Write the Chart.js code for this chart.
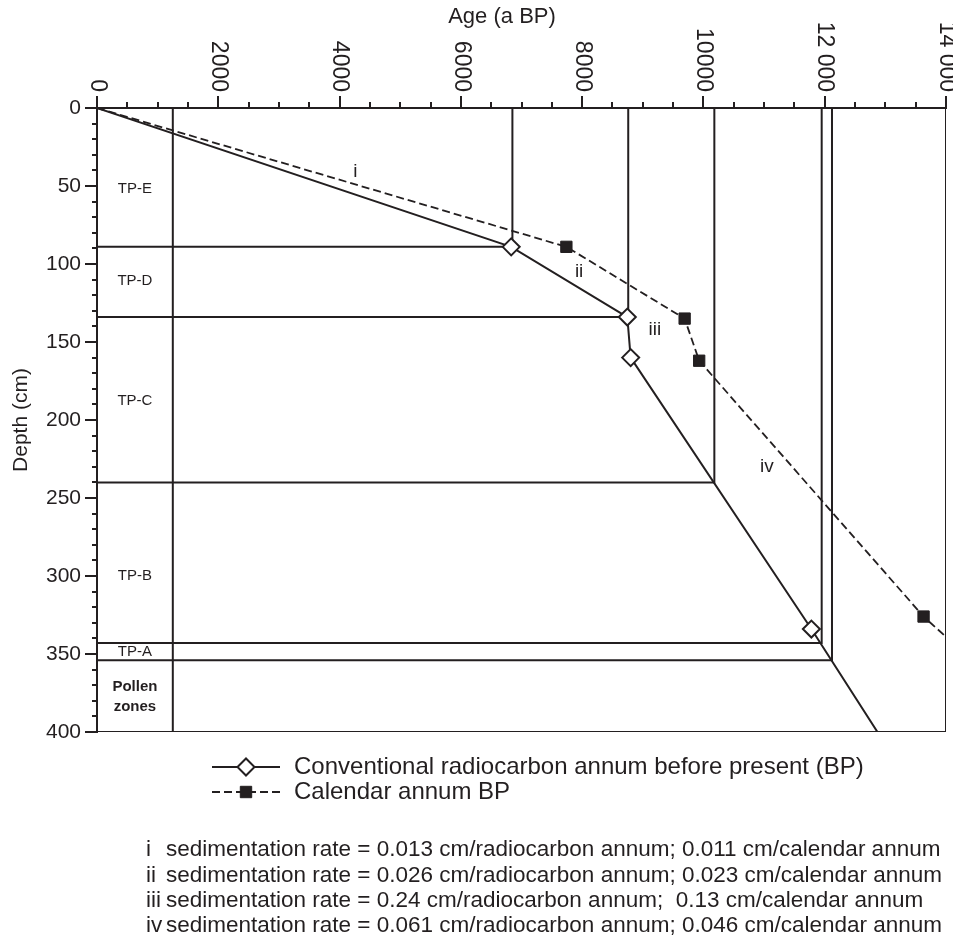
<!DOCTYPE html>
<html>
<head>
<meta charset="utf-8">
<script src="https://cdn.jsdelivr.net/npm/chart.js@4.4.0/dist/chart.umd.min.js"></script>
<style>
  html, body { margin: 0; padding: 0; background: #fff; }
  #wrap { width: 953px; height: 943px; }
</style>
</head>
<body>
<div id="wrap"><canvas id="ageDepthChart" width="953" height="943"></canvas></div>
<script>
// Conventional radiocarbon ages (a BP) against depth (cm); last point is the extrapolation to 400 cm
const radiocarbonAge = [0, 6830, 8745, 8800, 11780, 12870];
const radiocarbonDepth = [0, 89, 134, 160, 334, 400];

// Calendar ages (a BP) against depth (cm); last point is where the line leaves the plot
const calendarAge = [0, 7740, 9690, 9930, 13630, 14000];
const calendarDepth = [0, 89, 135, 162, 326, 339];

// Pollen zone boundaries: depth (cm) and the radiocarbon age at that depth
const zoneNames = ['TP-E', 'TP-D', 'TP-C', 'TP-B', 'TP-A'];
const zoneBoundaryDepth = [89, 134, 240, 343, 354];
const zoneBoundaryAge = [6850, 8760, 10180, 11950, 12120];
const zoneColumnAge = 1250;

// Axes
const xTickValues = [0, 2000, 4000, 6000, 8000, 10000, 12000, 14000];
const xTickLabels = ['0', '2000', '4000', '6000', '8000', '10000', '12 000', '14 000'];

// Sedimentation rates for the segments i - iv
const segmentNames = ['i', 'ii', 'iii', 'iv'];
const radiocarbonRate = ['0.013', '0.026', '0.24', '0.061'];
const calendarRate = ['0.011', '0.023', '0.13', '0.046'];

const ink = '#231f20';
const fontFamily = '"Liberation Sans", Arial, Helvetica, sans-serif';

function toPoints(xs, ys) {
    return xs.map((x, i) => ({ x: x, y: ys[i] }));
}

// Zone boundary lines: from the depth axis across to the age curve, then up to the top
const zoneDatasets = zoneBoundaryDepth.map((d, i) => ({
    data: [{ x: 0, y: d }, { x: zoneBoundaryAge[i], y: d }, { x: zoneBoundaryAge[i], y: 0 }],
    borderColor: ink,
    borderWidth: 2,
    pointRadius: 0,
    showLine: true,
    order: 2
}));

const frameDatasets = [
    { data: [{ x: zoneColumnAge, y: 0 }, { x: zoneColumnAge, y: 400 }] },
    { data: [{ x: 0, y: 400 }, { x: 14000, y: 400 }, { x: 14000, y: 0 }] }
].map(ds => Object.assign(ds, {
    borderColor: ink, borderWidth: 2, pointRadius: 0, showLine: true, order: 2
}));

const radiocarbonSet = {
    label: 'Conventional radiocarbon annum before present (BP)',
    data: toPoints(radiocarbonAge, radiocarbonDepth),
    borderColor: ink,
    borderWidth: 2,
    showLine: true,
    pointStyle: 'rectRot',
    pointRadius: ctx => (ctx.dataIndex === 0 || ctx.dataIndex === radiocarbonAge.length - 1) ? 0 : 8.5,
    pointBackgroundColor: '#fff',
    pointBorderColor: ink,
    pointBorderWidth: 2,
    order: 0
};

const calendarSet = {
    label: 'Calendar annum BP',
    data: toPoints(calendarAge, calendarDepth),
    borderColor: ink,
    borderWidth: 1.8,
    borderDash: [8, 4],
    showLine: true,
    pointStyle: 'rect',
    pointRadius: ctx => (ctx.dataIndex === 0 || ctx.dataIndex === calendarAge.length - 1) ? 0 : 8,
    pointBackgroundColor: ink,
    pointBorderColor: ink,
    pointBorderWidth: 1,
    order: 1
};

// Draws the tick marks, the rotated age labels, the zone names, the legend and the notes
const annotationPlugin = {
    id: 'annotations',
    afterDraw(chart) {
        const ctx = chart.ctx;
        const x = chart.scales.x;
        const y = chart.scales.y;
        const area = chart.chartArea;
        ctx.save();
        ctx.strokeStyle = ink;
        ctx.fillStyle = ink;
        ctx.lineWidth = 2;

        // tick marks
        ctx.beginPath();
        for (let v = 0; v <= 14000; v += 500) {
            const px = Math.round(x.getPixelForValue(v));
            const len = v % 2000 === 0 ? 12 : 6;
            ctx.moveTo(px, area.top);
            ctx.lineTo(px, area.top - len);
        }
        for (let v = 0; v <= 400; v += 10) {
            const py = Math.round(y.getPixelForValue(v));
            const len = v % 50 === 0 ? 12 : 5;
            ctx.moveTo(area.left, py);
            ctx.lineTo(area.left - len, py);
        }
        ctx.stroke();

        // age labels, reading downwards
        ctx.font = '23px ' + fontFamily;
        ctx.textAlign = 'right';
        ctx.textBaseline = 'middle';
        xTickValues.forEach((v, i) => {
            ctx.save();
            ctx.translate(x.getPixelForValue(v), area.top - 16);
            ctx.rotate(Math.PI / 2);
            ctx.fillText(xTickLabels[i], 0, 0);
            ctx.restore();
        });

        // age axis title
        ctx.textAlign = 'center';
        ctx.font = '22px ' + fontFamily;
        ctx.fillText('Age (a BP)', 502, 17);

        // pollen zone names in the left column
        const colMid = (x.getPixelForValue(0) + x.getPixelForValue(zoneColumnAge)) / 2;
        const zoneLabelDepth = [52, 111, 188, 300, 348.5];
        ctx.font = '15px ' + fontFamily;
        zoneNames.forEach((name, i) => {
            ctx.fillText(name, colMid, y.getPixelForValue(zoneLabelDepth[i]));
        });
        ctx.font = 'bold 15px ' + fontFamily;
        ctx.fillText('Pollen', colMid, y.getPixelForValue(371));
        ctx.fillText('zones', colMid, y.getPixelForValue(384));

        // segment labels
        const segAge = [4260, 7950, 9200, 11045];
        const segDepth = [41, 105, 142, 230];
        ctx.font = '19px ' + fontFamily;
        segmentNames.forEach((s, i) => {
            ctx.fillText(s, x.getPixelForValue(segAge[i]), y.getPixelForValue(segDepth[i]));
        });

        // legend
        const legendRows = [
            { set: radiocarbonSet, y: 767 },
            { set: calendarSet, y: 792 }
        ];
        legendRows.forEach(row => {
            const ds = row.set;
            ctx.save();
            ctx.lineWidth = ds.borderWidth;
            ctx.setLineDash(ds.borderDash || []);
            ctx.beginPath();
            ctx.moveTo(212, row.y);
            ctx.lineTo(280, row.y);
            ctx.stroke();
            ctx.fillStyle = ds.pointBackgroundColor;
            ctx.strokeStyle = ds.pointBorderColor;
            ctx.lineWidth = ds.pointBorderWidth;
            ctx.setLineDash([]);
            ctx.beginPath();
            if (ds.pointStyle === 'rectRot') {
                ctx.moveTo(246 - 8.5, row.y);
                ctx.lineTo(246, row.y - 8.5);
                ctx.lineTo(246 + 8.5, row.y);
                ctx.lineTo(246, row.y + 8.5);
                ctx.closePath();
            } else {
                ctx.rect(246 - 5.7, row.y - 5.7, 11.4, 11.4);
            }
            ctx.fill();
            ctx.stroke();
            ctx.restore();
            ctx.font = '24px ' + fontFamily;
            ctx.textAlign = 'left';
            ctx.fillText(ds.label, 294, row.y);
        });

        // sedimentation-rate notes
        ctx.font = '22.5px ' + fontFamily;
        ctx.textAlign = 'left';
        segmentNames.forEach((s, i) => {
            const ly = 850 + i * 25.3;
            ctx.fillText(s, 146, ly);
            const gap = s === 'iii' ? ';  ' : '; ';
            ctx.fillText('sedimentation rate = ' + radiocarbonRate[i] + ' cm/radiocarbon annum' + gap +
                calendarRate[i] + ' cm/calendar annum', 166, ly);
        });
        ctx.restore();
    }
};

const chart = new Chart(document.getElementById('ageDepthChart').getContext('2d'), {
    type: 'scatter',
    data: {
        datasets: [radiocarbonSet, calendarSet].concat(zoneDatasets, frameDatasets)
    },
    options: {
        responsive: false,
        animation: false,
        devicePixelRatio: 1,
        events: [],
        layout: { padding: { left: 0, top: 0, right: 7, bottom: 211 } },
        plugins: {
            legend: { display: false },
            tooltip: { enabled: false }
        },
        scales: {
            x: {
                type: 'linear',
                position: 'top',
                min: 0,
                max: 14000,
                ticks: { display: false },
                grid: { display: false, drawTicks: false },
                border: { display: true, color: ink, width: 2 },
                afterFit: scale => { scale.height = 108; }
            },
            y: {
                type: 'linear',
                position: 'left',
                reverse: true,
                min: 0,
                max: 400,
                ticks: {
                    stepSize: 50,
                    padding: 16,
                    color: ink,
                    font: { family: fontFamily, size: 21 }
                },
                grid: { display: false, drawTicks: false },
                border: { display: true, color: ink, width: 2 },
                title: {
                    display: true,
                    text: 'Depth (cm)',
                    color: ink,
                    font: { family: fontFamily, size: 21 },
                    padding: { top: 9, bottom: 0 }
                },
                afterFit: scale => { scale.width = 97; }
            }
        }
    },
    plugins: [annotationPlugin]
});
</script>
</body>
</html>
